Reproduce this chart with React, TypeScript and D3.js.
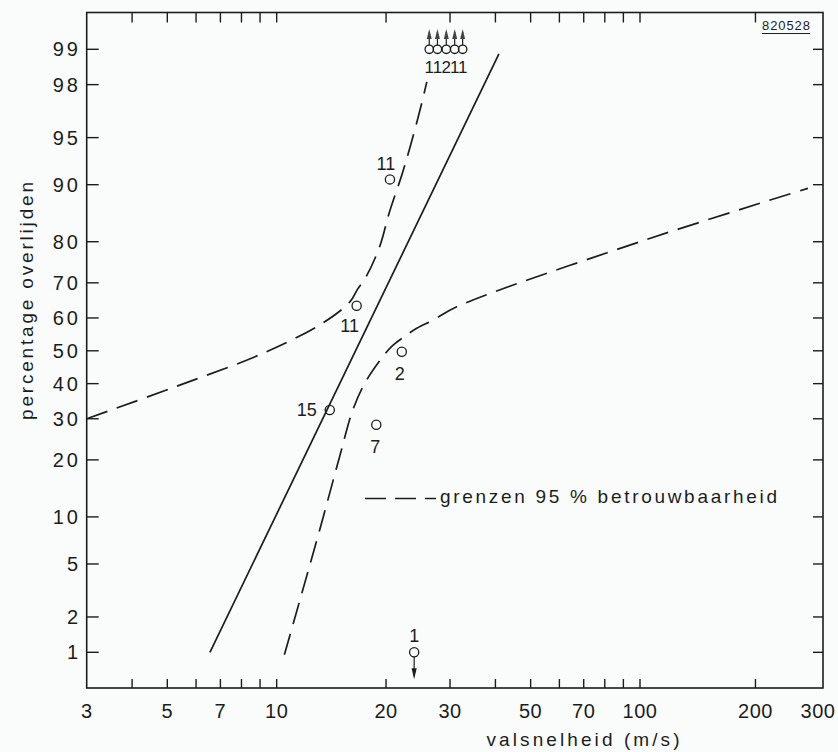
import React from "react";
import * as d3 from "d3";

// ---------- data ----------
const xTickValues = [4, 5, 6, 7, 8, 9, 10, 20, 30, 40, 50, 60, 70, 80, 90, 100, 200];
const xTickLabels = [3, 5, 7, 10, 20, 30, 50, 70, 100, 200, 300];
const yTickValues = [1, 2, 5, 10, 20, 30, 40, 50, 60, 70, 80, 90, 95, 98, 99];

// fitted probit line (valsnelheid m/s, percentage)
const fitLine: [number, number][] = [
  [6.55, 1],
  [40.9, 98.9],
];

// upper 95% confidence limit
const upperBound: [number, number][] = [
  [3, 30], [5.3, 39.2], [9.2, 49.3], [13.4, 58.5], [15.9, 64.7],
  [16.7, 68.3], [17.6, 71.5], [19.2, 78.9],
  [20.4, 85.6], [22.3, 91.8], [24.4, 96.25], [25.9, 98.1],
];

// lower 95% confidence limit
const lowerBound: [number, number][] = [
  [10.5, 0.95], [13.2, 8.7], [14.9, 20.7], [16.2, 32.4], [17.5, 40.2],
  [19.3, 47.2], [20.7, 51.3], [22.3, 54.1], [24.3, 56.9], [27.0, 59.4],
  [31.3, 63.3], [100, 80], [274, 89.5],
];

// observations: velocity, percentage, number of cases
const obsV = [14.0, 18.8, 22.1, 16.6, 20.5, 23.9];
const obsP = [32.4, 28.4, 49.7, 63.6, 90.7, 1];
const obsN = ["15", "7", "2", "11", "11", "1"];
const obsArrow = [0, 0, 0, 0, 0, 1]; // 1 = arrow down

// observations at 100 % (drawn at top with arrows up)
const topV = [26.3, 27.7, 29.3, 30.9, 32.5];
const topN = ["1", "1", "2", "1", "1"];
const topP = 99;

const legendText = "grenzen 95 % betrouwbaarheid";
const xTitle = "valsnelheid (m/s)";
const yTitle = "percentage overlijden";
const drawingNo = "820528";

// ---------- layout ----------
const W = 838;
const H = 752;
const left = 86.7;
const right = 823;
const top = 12.5;
const bottom = 688;

// label offsets for observations (dx, dy, anchor)
const obsLabelPos: [number, number, string][] = [
  [-13, 6.5, "end"],
  [-1, 28, "middle"],
  [-2, 28.5, "middle"],
  [-7, 26, "middle"],
  [-4, -9, "middle"],
  [0, -10, "middle"],
];

function normInv(p: number): number {
  const a = [-3.969683028665376e1, 2.209460984245205e2, -2.759285104469687e2, 1.38357751867269e2, -3.066479806614716e1, 2.506628277459239];
  const b = [-5.447609879822406e1, 1.615858368580409e2, -1.556989798598866e2, 6.680131188771972e1, -1.328068155288572e1];
  const c = [-7.784894002430293e-3, -3.223964580411365e-1, -2.400758277161838, -2.549671010229583, 4.374664141464968, 2.938163982698783];
  const d = [7.784695709041462e-3, 3.224671290700398e-1, 2.445134137142996, 3.754408661907416];
  const pl = 0.02425;
  if (p < pl) {
    const q = Math.sqrt(-2 * Math.log(p));
    return (((((c[0] * q + c[1]) * q + c[2]) * q + c[3]) * q + c[4]) * q + c[5]) / ((((d[0] * q + d[1]) * q + d[2]) * q + d[3]) * q + 1);
  }
  if (p > 1 - pl) {
    const q = Math.sqrt(-2 * Math.log(1 - p));
    return -(((((c[0] * q + c[1]) * q + c[2]) * q + c[3]) * q + c[4]) * q + c[5]) / ((((d[0] * q + d[1]) * q + d[2]) * q + d[3]) * q + 1);
  }
  const q = p - 0.5;
  const r = q * q;
  return ((((((a[0] * r + a[1]) * r + a[2]) * r + a[3]) * r + a[4]) * r + a[5]) * q) / (((((b[0] * r + b[1]) * r + b[2]) * r + b[3]) * r + b[4]) * r + 1);
}

const xScale = d3.scaleLog().domain([3, 100, 300]).range([left, 640, right]);
const zScale = d3.scaleLinear().domain([normInv(0.01), normInv(0.99)]).range([652.3, 49.3]);
const yScale = (p: number) => zScale(normInv(p / 100));

const INK = "#1c1c1c";
const FONT = "'Liberation Sans', Arial, sans-serif";

export default function App() {
  const line = d3
    .line<[number, number]>()
    .x((d) => xScale(d[0]))
    .y((d) => yScale(d[1]));
  const curve = d3
    .line<[number, number]>()
    .x((d) => xScale(d[0]))
    .y((d) => yScale(d[1]))
    .curve(d3.curveCatmullRom.alpha(0.5));

  const r = 4.6;
  const dash = "22 10";

  return (
    <svg width={W} height={H} style={{ position: "absolute", left: 0, top: 0, background: "#fafcfc" }} fontFamily={FONT}>
      <rect x={0} y={0} width={W} height={H} fill="#fafcfc" />
      {/* frame */}
      <rect x={left} y={top} width={right - left} height={bottom - top} fill="none" stroke={INK} strokeWidth={1.6} />

      {/* x ticks bottom + top */}
      {xTickValues.map((v) => (
        <g key={"xt" + v}>
          <line x1={xScale(v)} x2={xScale(v)} y1={bottom} y2={bottom - 9} stroke={INK} strokeWidth={1.4} />
          <line x1={xScale(v)} x2={xScale(v)} y1={top} y2={top + 10} stroke={INK} strokeWidth={1.4} />
        </g>
      ))}
      {xTickLabels.map((v) => (
        <text key={"xl" + v} x={xScale(v) - (v === 300 ? 5 : 0)} y={718} fontSize={20} textAnchor="middle" fill={INK} letterSpacing={0.5}>
          {v}
        </text>
      ))}

      {/* y ticks left + right */}
      {yTickValues.map((p) => (
        <g key={"yt" + p}>
          <line x1={left} x2={left + 12} y1={yScale(p)} y2={yScale(p)} stroke={INK} strokeWidth={1.4} />
          <line x1={right} x2={right - 10} y1={yScale(p)} y2={yScale(p)} stroke={INK} strokeWidth={1.4} />
          <text x={81} y={yScale(p) + 7} fontSize={20} textAnchor="end" fill={INK} letterSpacing={3}>
            {p}
          </text>
        </g>
      ))}

      {/* axis titles */}
      <text x={583} y={746} fontSize={19} textAnchor="middle" fill={INK} textLength={193} lengthAdjust="spacing">
        {xTitle}
      </text>
      <text transform="translate(33,301) rotate(-90)" fontSize={19} textAnchor="middle" fill={INK} textLength={238} lengthAdjust="spacing">
        {yTitle}
      </text>

      {/* drawing number */}
      <text x={762} y={30} fontSize={13} fill={INK} textLength={48} lengthAdjust="spacing">
        {drawingNo}
      </text>
      <line x1={762} x2={810} y1={33.5} y2={33.5} stroke={INK} strokeWidth={1} />

      {/* lines */}
      <path d={line(fitLine) || ""} fill="none" stroke={INK} strokeWidth={1.7} />
      <path d={curve(upperBound) || ""} fill="none" stroke={INK} strokeWidth={1.7} strokeDasharray={dash} />
      <path d={curve(lowerBound) || ""} fill="none" stroke={INK} strokeWidth={1.7} strokeDasharray={dash} />

      {/* observations */}
      {obsV.map((v, i) => {
        const cx = xScale(v);
        const cy = yScale(obsP[i]);
        const [dx, dy, anchor] = obsLabelPos[i];
        return (
          <g key={"o" + i}>
            <circle cx={cx} cy={cy} r={r} fill="none" stroke={INK} strokeWidth={1.3} />
            {obsArrow[i] === 1 && (
              <g>
                <line x1={cx} x2={cx} y1={cy + r} y2={cy + 24} stroke={INK} strokeWidth={1.2} />
                <path d={`M${cx - 2.6},${cy + 16} L${cx + 2.6},${cy + 16} L${cx},${cy + 27} Z`} fill={INK} />
              </g>
            )}
            <text x={cx + dx} y={cy + dy} fontSize={18} textAnchor={anchor} fill={INK}>
              {obsN[i]}
            </text>
          </g>
        );
      })}

      {/* observations at top (100 %) */}
      {topV.map((v, i) => {
        const cx = xScale(v);
        const cy = yScale(topP);
        return (
          <g key={"t" + i}>
            <circle cx={cx} cy={cy} r={4.2} fill="none" stroke={INK} strokeWidth={1.3} />
            <line x1={cx} x2={cx} y1={cy - 4.2} y2={32} stroke={INK} strokeWidth={1.2} />
            <path d={`M${cx},${29} L${cx + 2.5},${39} L${cx - 2.5},${39} Z`} fill="#444" />
            <text x={cx} y={cy + 24} fontSize={17} textAnchor="middle" fill={INK}>
              {topN[i]}
            </text>
          </g>
        );
      })}

      {/* legend */}
      <line x1={365} x2={436} y1={498.5} y2={498.5} stroke={INK} strokeWidth={1.7} strokeDasharray="21 9" />
      <text x={440} y={503} fontSize={19} fill={INK} textLength={337} lengthAdjust="spacing">
        {legendText}
      </text>
    </svg>
  );
}
